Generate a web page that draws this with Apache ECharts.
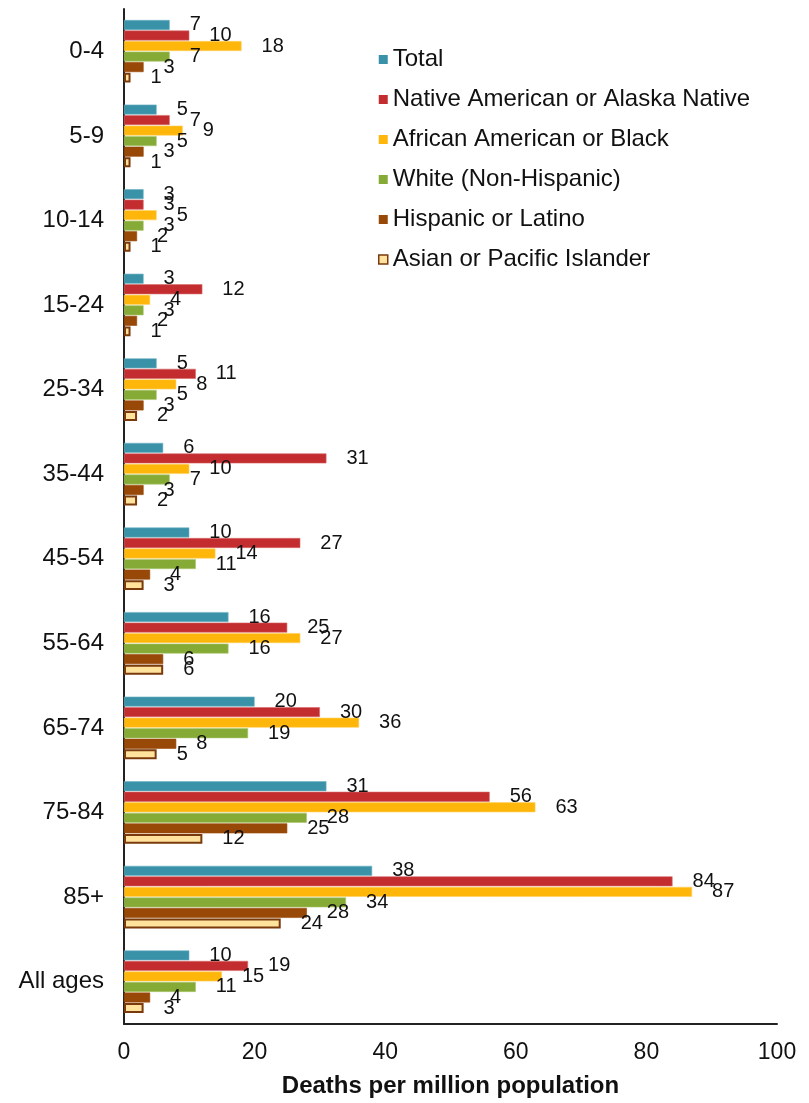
<!DOCTYPE html>
<html>
<head>
<meta charset="utf-8">
<script src="https://cdn.jsdelivr.net/npm/echarts@6/dist/echarts.min.js"></script>
<style>
  html, body { margin: 0; padding: 0; background: #fff; }
  #chart { width: 809px; height: 1103px; }
</style>
</head>
<body>
<div id="chart"></div>
<script>
const categories = ['0-4', '5-9', '10-14', '15-24', '25-34', '35-44', '45-54', '55-64', '65-74', '75-84', '85+', 'All ages'];
const seriesNames = ['Total', 'Native American or Alaska Native', 'African American or Black', 'White (Non-Hispanic)', 'Hispanic or Latino', 'Asian or Pacific Islander'];
const totalValues    = [7, 5, 3, 3, 5, 6, 10, 16, 20, 31, 38, 10];
const nativeValues   = [10, 7, 3, 12, 11, 31, 27, 25, 30, 56, 84, 19];
const africanValues  = [18, 9, 5, 4, 8, 10, 14, 27, 36, 63, 87, 15];
const whiteValues    = [7, 5, 3, 3, 5, 7, 11, 16, 19, 28, 34, 11];
const hispanicValues = [3, 3, 2, 2, 3, 3, 4, 6, 8, 25, 28, 4];
const asianValues    = [1, 1, 1, 1, 2, 2, 3, 6, 5, 12, 24, 3];
const xTicks = [0, 20, 40, 60, 80, 100];
const xAxisTitle = 'Deaths per million population';

const seriesData = [totalValues, nativeValues, africanValues, whiteValues, hispanicValues, asianValues];
const colors = ['#3A92A8', '#C32D2F', '#FFB60A', '#86AA36', '#984807', '#FFE29C'];
const borderColors = ['#6fb3c4', '#d86a6a', '#ffd060', '#aac86e', '#984807', '#7A3A0C'];
const borderWidths = [0.6, 0.6, 0.6, 0.6, 0.6, 2];
const font = 'Liberation Sans, Arial, sans-serif';

const chart = echarts.init(document.getElementById('chart'));
chart.setOption({
  animation: false,
  textStyle: { fontFamily: font },
  grid: { left: 124, right: 32, top: 9, bottom: 78, containLabel: false },
  legend: {
    orient: 'vertical',
    left: 373,
    top: 42,
    itemWidth: 9,
    itemHeight: 9,
    itemGap: 15,
    icon: 'rect',
    textStyle: { fontSize: 24, lineHeight: 25, color: '#111', fontFamily: font, padding: [0, 0, 0, 0] },
    data: seriesNames.map((n, i) => ({
      name: n,
      itemStyle: i === 5 ? { color: colors[5], borderColor: borderColors[5], borderWidth: 1.5 } : { color: colors[i], borderWidth: 0 }
    }))
  },
  xAxis: {
    type: 'value',
    min: xTicks[0],
    max: xTicks[xTicks.length - 1],
    interval: 20,
    splitLine: { show: false },
    axisLine: { show: true, lineStyle: { color: '#222', width: 2 } },
    axisTick: { show: false },
    axisLabel: { fontSize: 23, color: '#111', margin: 17, fontFamily: font },
    name: xAxisTitle,
    nameLocation: 'middle',
    nameGap: 50,
    nameTextStyle: { fontSize: 24, fontWeight: 'bold', color: '#111', fontFamily: font }
  },
  yAxis: {
    type: 'category',
    inverse: true,
    data: categories,
    axisLine: { show: true, lineStyle: { color: '#222', width: 2 } },
    axisTick: { show: false },
    axisLabel: { fontSize: 24, color: '#111', margin: 20, fontFamily: font }
  },
  series: seriesNames.map((n, i) => ({
    name: n,
    type: 'bar',
    data: seriesData[i],
    barCategoryGap: '26%',
    barGap: '6%',
    itemStyle: { color: colors[i], borderColor: borderColors[i], borderWidth: borderWidths[i] },
    label: {
      show: true,
      position: 'right',
      distance: 20,
      fontSize: 20,
      color: '#111',
      fontFamily: font
    }
  }))
});
</script>
</body>
</html>
